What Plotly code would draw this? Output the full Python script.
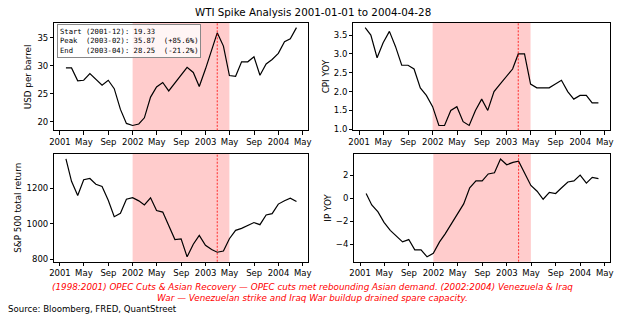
import pandas as pd
import plotly.graph_objects as go

dates = pd.date_range("2001-01-31", periods=39, freq="ME")

wti = [29.6, 29.6, 27.3, 27.4, 28.6, 27.5, 26.5, 27.4, 25.9, 22.2, 19.7, 19.33,
       19.6, 20.7, 24.4, 26.2, 27.0, 25.5, 26.9, 28.3, 29.7, 28.8, 26.3, 29.4,
       32.9, 35.87, 33.5, 28.25, 28.1, 30.7, 30.7, 31.6, 28.3, 30.3, 31.1, 32.2,
       34.3, 34.8, 36.8]
cpi = [3.7, 3.5, 2.9, 3.3, 3.6, 3.2, 2.7, 2.7, 2.6, 2.1, 1.9, 1.6,
       1.1, 1.1, 1.5, 1.6, 1.2, 1.1, 1.5, 1.8, 1.5, 2.0, 2.2, 2.4,
       2.6, 3.0, 3.0, 2.2, 2.1, 2.1, 2.1, 2.2, 2.3, 2.0, 1.8, 1.9,
       1.9, 1.7, 1.7]
spx = [1366, 1240, 1160, 1249, 1256, 1224, 1211, 1134, 1041, 1060, 1139, 1148,
       1130, 1107, 1147, 1076, 1067, 990, 912, 916, 815, 886, 936, 880,
       856, 841, 848, 917, 964, 975, 990, 1008, 996, 1051, 1058, 1112,
       1131, 1145, 1126]
ip = [0.4, -0.6, -1.2, -2.1, -2.8, -3.3, -3.8, -3.6, -4.5, -4.5, -5.1, -4.8,
      -3.8, -3.1, -2.2, -1.3, -0.5, 0.9, 1.5, 1.5, 2.1, 2.2, 3.4, 2.9,
      3.1, 3.2, 2.1, 1.1, 0.6, -0.1, 0.5, 0.4, 0.9, 1.4, 1.5, 2.0,
      1.3, 1.8, 1.7]

tick_dates = ["2001-01-01", "2001-05-01", "2001-09-01", "2002-01-01", "2002-05-01",
              "2002-09-01", "2003-01-01", "2003-05-01", "2003-09-01", "2004-01-01",
              "2004-05-01"]
tick_text = ["2001", "May", "Sep", "2002", "May", "Sep", "2003", "May", "Sep", "2004", "May"]

shade_start = "2001-12-31"
shade_end = "2003-04-30"
peak_date = "2003-02-28"

panels = [
    (wti, "USD per barrel", [20, 25, 30, 35], ["20", "25", "30", "35"]),
    (cpi, "CPI YOY", [1.0, 1.5, 2.0, 2.5, 3.0, 3.5], ["1.0", "1.5", "2.0", "2.5", "3.0", "3.5"]),
    (spx, "S&P 500 total return", [800, 1000, 1200], ["800", "1000", "1200"]),
    (ip, "IP YOY", [-4, -2, 0, 2], ["−4", "−2", "0", "2"]),
]

W, H = 623, 324
# pixel boxes (left, right, top, bottom)
boxes = [(50, 307, 23, 132), (353, 613, 23, 132), (50, 307, 156, 265), (354, 613, 156, 265)]
ylabel_x = [23, 325, 13, 327]

fig = go.Figure()
FONT = "DejaVu Sans"
xr = [pd.Timestamp("2000-12-04"), pd.Timestamp("2004-05-28")]

for i, (vals, ylab, yt, ytt) in enumerate(panels):
    n = "" if i == 0 else str(i + 1)
    l, r, t, b = boxes[i]
    fig.add_trace(go.Scatter(x=dates, y=vals, mode="lines",
                             line=dict(color="black", width=1.2),
                             xaxis="x" + n, yaxis="y" + n, showlegend=False))
    lo, hi = min(vals), max(vals)
    m = (hi - lo) * 0.05
    common = dict(showline=True, mirror=True, linecolor="black", linewidth=0.8,
                  ticks="outside", ticklen=3.5, tickwidth=0.8, tickcolor="black",
                  showgrid=False, zeroline=False,
                  tickfont=dict(family=FONT, size=8.5, color="black"))
    fig.layout["xaxis" + n] = dict(domain=[l / W, r / W], anchor="y" + n, range=xr,
                                   tickvals=tick_dates, ticktext=tick_text, **common)
    fig.layout["yaxis" + n] = dict(domain=[1 - b / H, 1 - t / H], anchor="x" + n,
                                   range=[lo - m, hi + m], tickvals=yt, ticktext=ytt, **common)
    fig.add_shape(type="rect", xref="x" + n, yref="y" + n + " domain",
                  x0=shade_start, x1=shade_end, y0=0, y1=1,
                  fillcolor="rgba(255,0,0,0.2)", line=dict(width=0), layer="below")
    fig.add_shape(type="line", xref="x" + n, yref="y" + n + " domain",
                  x0=peak_date, x1=peak_date, y0=0, y1=1,
                  line=dict(color="red", width=0.8, dash="2px,1.5px"))
    fig.add_annotation(text=ylab, xref="paper", yref="paper",
                       x=ylabel_x[i] / W, y=1 - (t + b) / 2 / H, textangle=-90,
                       showarrow=False, xanchor="center", yanchor="middle",
                       font=dict(family=FONT, size=8.8, color="black"))

nb = "\u00a0"
box_lines = [
    "Start (2001-12): 19.33",
    "Peak  (2003-02): 35.87  (+85.6%)",
    "End   (2003-04): 28.25  (-21.2%)",
]
box_text = "<br>".join(s.replace(" ", nb) for s in box_lines)
fig.add_annotation(text=box_text, xref="x domain", yref="y domain", x=0.012, y=0.988,
                   xanchor="left", yanchor="top", showarrow=False, align="left",
                   font=dict(family="DejaVu Sans Mono", size=7.2, color="black"),
                   bgcolor="rgba(255,255,255,0.8)", bordercolor="#888", borderwidth=1,
                   borderpad=2)

fig.add_annotation(text="WTI Spike Analysis 2001-01-01 to 2004-04-28", xref="paper", yref="paper",
                   x=0.5, y=1 - 12 / H, showarrow=False, xanchor="center", yanchor="middle",
                   font=dict(family=FONT, size=10.3, color="black"))

caption = ("(1998:2001) OPEC Cuts &amp; Asian Recovery — OPEC cuts met rebounding Asian demand. "
           "(2002:2004) Venezuela &amp; Iraq<br>War — Venezuelan strike and Iraq War buildup drained spare capacity.")
fig.add_annotation(text="<i>" + caption + "</i>", xref="paper", yref="paper",
                   x=311 / W, y=1 - 296.5 / H, showarrow=False, xanchor="center", yanchor="middle",
                   align="center", font=dict(family=FONT, size=8.8, color="red"))
fig.add_annotation(text="Source: Bloomberg, FRED, QuantStreet", xref="paper", yref="paper",
                   x=1 / W, y=1 - 313 / H, showarrow=False, xanchor="left", yanchor="middle",
                   font=dict(family=FONT, size=8.6, color="black"))

fig.update_layout(width=W, height=H, margin=dict(l=0, r=0, t=0, b=0),
                  paper_bgcolor="white", plot_bgcolor="white", showlegend=False)

fig.write_html("out.html")
